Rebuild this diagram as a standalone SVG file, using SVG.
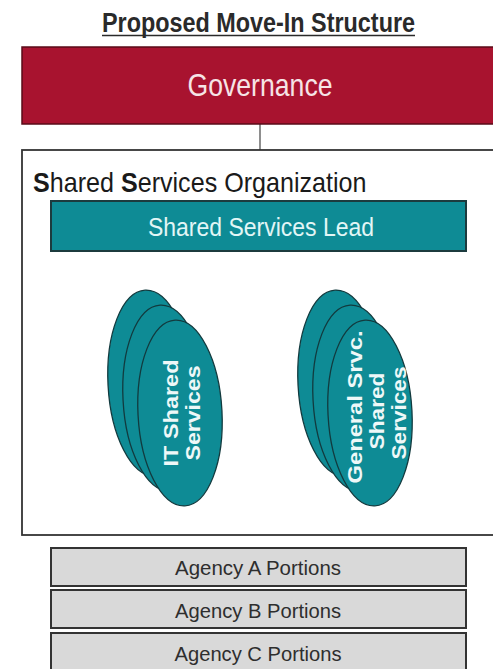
<svg xmlns="http://www.w3.org/2000/svg" width="493" height="669" viewBox="0 0 493 669">
<style>
  text { font-family: "Liberation Sans", Arial, sans-serif; }
  .title { font-size: 27px; font-weight: bold; fill: #2a2a2a; }
  .gov { fill: #a8132f; stroke: #5a0b18; stroke-width: 1.5; }
  .govtxt { font-size: 32px; fill: #f6e4e6; }
  .sso { fill: #ffffff; stroke: #333333; stroke-width: 1.8; }
  .ssotxt { font-size: 27px; fill: #1a1a1a; }
  .lead { fill: #0e8b95; stroke: #1c3b3e; stroke-width: 2; }
  .leadtxt { font-size: 26px; fill: #e2f6f6; }
  .oval { fill: #0e8b95; stroke: #123a3e; stroke-width: 1.3; }
  .ovtxt { font-size: 21px; font-weight: bold; fill: #eef8f8; }
  .agency { fill: #d9d9d9; stroke: #333333; stroke-width: 2; }
  .agtxt { font-size: 20px; fill: #2e2e2e; }
  .conn { stroke: #444444; stroke-width: 1.2; fill: none; }
</style>

<g id="title">
  <text class="title" x="102" y="32" textLength="313" lengthAdjust="spacingAndGlyphs">Proposed Move-In Structure</text>
  <line x1="102" y1="35.5" x2="415" y2="35.5" stroke="#2a2a2a" stroke-width="1.6"/>
</g>

<g id="connectors">
  <line class="conn" x1="260" y1="124" x2="260" y2="150"/>
  <line class="conn" x1="167" y1="251" x2="167" y2="296"/>
  <line class="conn" x1="356" y1="251" x2="356" y2="296"/>
</g>

<g id="governance">
  <rect class="gov" x="22" y="47" width="480" height="77"/>
  <text class="govtxt" x="260" y="96" text-anchor="middle" textLength="145" lengthAdjust="spacingAndGlyphs">Governance</text>
</g>

<g id="shared-services-organization">
  <rect class="sso" x="22" y="150" width="480" height="385"/>
  <text class="ssotxt" x="0" y="0" transform="translate(33 192) scale(0.93 1)"><tspan font-weight="bold">S</tspan>hared <tspan font-weight="bold">S</tspan>ervices Organization</text>
</g>

<g id="shared-services-lead">
  <rect class="lead" x="51" y="201" width="415" height="50"/>
  <text class="leadtxt" x="261" y="236" text-anchor="middle" textLength="226" lengthAdjust="spacingAndGlyphs">Shared Services Lead</text>
</g>

<g id="it-shared-services">
  <ellipse class="oval" cx="150" cy="383" rx="42" ry="93" transform="rotate(-3 150 383)"/>
  <ellipse class="oval" cx="165" cy="398" rx="42" ry="93" transform="rotate(-3 165 398)"/>
  <ellipse class="oval" cx="180" cy="413" rx="42" ry="93" transform="rotate(-3 180 413)"/>
  <text class="ovtxt" transform="translate(178 413) rotate(-90)" text-anchor="middle" textLength="107" lengthAdjust="spacingAndGlyphs">IT Shared</text>
  <text class="ovtxt" transform="translate(200 413) rotate(-90)" text-anchor="middle" textLength="95" lengthAdjust="spacingAndGlyphs">Services</text>
</g>

<g id="general-srvc-shared-services">
  <ellipse class="oval" cx="340" cy="383" rx="42" ry="93" transform="rotate(-3 340 383)"/>
  <ellipse class="oval" cx="355" cy="398" rx="42" ry="93" transform="rotate(-3 355 398)"/>
  <ellipse class="oval" cx="370" cy="413" rx="42" ry="93" transform="rotate(-3 370 413)"/>
  <text class="ovtxt" transform="translate(362 407) rotate(-90)" text-anchor="middle" textLength="153" lengthAdjust="spacingAndGlyphs">General Srvc.</text>
  <text class="ovtxt" transform="translate(384 411) rotate(-90)" text-anchor="middle" textLength="77" lengthAdjust="spacingAndGlyphs">Shared</text>
  <text class="ovtxt" transform="translate(406 413) rotate(-90)" text-anchor="middle" textLength="93" lengthAdjust="spacingAndGlyphs">Services</text>
</g>

<g id="agency-a">
  <rect class="agency" x="51" y="548" width="415" height="38"/>
  <text class="agtxt" x="258" y="575" text-anchor="middle" textLength="166" lengthAdjust="spacingAndGlyphs">Agency A Portions</text>
</g>
<g id="agency-b">
  <rect class="agency" x="51" y="590" width="415" height="38"/>
  <text class="agtxt" x="258" y="618" text-anchor="middle" textLength="166" lengthAdjust="spacingAndGlyphs">Agency B Portions</text>
</g>
<g id="agency-c">
  <rect class="agency" x="51" y="633" width="415" height="40"/>
  <text class="agtxt" x="258" y="661" text-anchor="middle" textLength="167" lengthAdjust="spacingAndGlyphs">Agency C Portions</text>
</g>
</svg>
